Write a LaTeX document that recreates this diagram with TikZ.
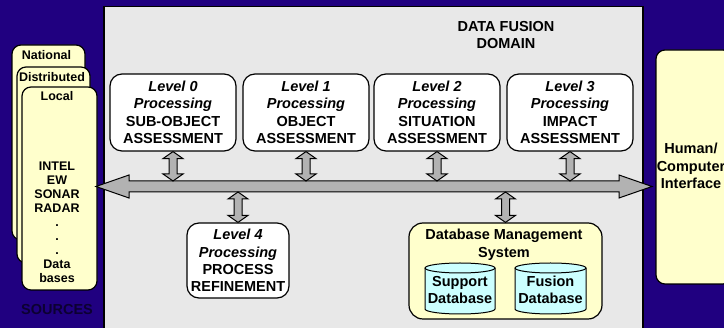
\documentclass[tikz,border=0pt]{standalone}
\usepackage{fontspec}
\setmainfont{Liberation Sans}
\usetikzlibrary{calc}
\definecolor{bgblue}{RGB}{32,0,128}
\definecolor{panelgray}{RGB}{232,232,232}
\definecolor{cream}{RGB}{255,255,204}
\definecolor{cylcyan}{RGB}{204,255,255}
\definecolor{arrowgray}{RGB}{178,178,178}
\definecolor{srctext}{RGB}{12,0,50}
\tikzset{
  bigfont/.style={font=\fontsize{14.5}{17.5}\selectfont\bfseries},
  smallfont/.style={font=\fontsize{12.5}{14}\selectfont\bfseries},
  lvl/.style={bigfont, draw=black, line width=1.2pt, fill=white, rounded corners=12pt,
    minimum width=126pt, minimum height=77pt, align=center, inner sep=1pt},
  srcbox/.style={draw=black, line width=1.2pt, fill=cream, rounded corners=9pt, inner sep=0pt},
  fatarrow/.style={draw=black, line width=1pt, fill=arrowgray, line join=miter},
  cylst/.style={draw=black, line width=1pt, fill=cylcyan},
  txt/.style={align=center, inner sep=0pt},
}
\newcommand\vdbl[2]{\draw[fatarrow] let \p1=(#1), \p2=(#2) in
  (\x1,\y1) -- (\x1+10pt,\y1-7pt) -- (\x1+4pt,\y1-7pt) -- (\x1+4pt,\y2+7pt) --
  (\x1+10pt,\y2+7pt) -- (\x1,\y2) -- (\x1-10pt,\y2+7pt) -- (\x1-4pt,\y2+7pt) --
  (\x1-4pt,\y1-7pt) -- (\x1-10pt,\y1-7pt) -- cycle;}
\begin{document}
\begin{tikzpicture}[x=1pt,y=-1pt]
\useasboundingbox (0,0) rectangle (724,328);
\fill[bgblue] (0,0) rectangle (724,328);
% main panel
\draw[fill=panelgray, draw=black, line width=1.5pt] (104,6.5) rectangle (643,340);
\node[txt, bigfont] (title) at (506,35) {DATA FUSION\\DOMAIN};
% sources
\node[srcbox, minimum width=73pt, minimum height=195pt] (nat) at (48.5,142.5) {};
\node[txt, smallfont, anchor=north] (natl) at ($(nat.north)+(-2pt,-6pt)$) {National};
\node[srcbox, minimum width=73pt, minimum height=196pt] (dist) at (53.5,165) {};
\node[txt, smallfont, anchor=north] (distl) at ($(dist.north)+(-1.5pt,-6pt)$) {Distributed};
\node[srcbox, minimum width=75pt, minimum height=203pt] (loc) at (59.5,188.5) {};
\node[txt, smallfont, anchor=north] (locl) at ($(loc.north)+(-2.5pt,-5pt)$) {Local};
\node[txt, smallfont] (loclist) at (57,222) {INTEL\\EW\\SONAR\\RADAR\\.\\.\\.\\Data\\bases};
\node[txt, bigfont, text=srctext] (sources) at (57,310) {SOURCES};
% human computer interface
\node[srcbox, minimum width=76pt, minimum height=234pt] (hci) at (694,167) {};
\node[txt, bigfont] (hcil) at (691,166) {Human/\\Computer\\Interface};
% levels
\node[lvl] (l0) at (173,112.5) {\textit{Level 0}\\\textit{Processing}\\SUB-OBJECT\\ASSESSMENT};
\node[lvl] (l1) at (306,112.5) {\textit{Level 1}\\\textit{Processing}\\OBJECT\\ASSESSMENT};
\node[lvl] (l2) at (437,112.5) {\textit{Level 2}\\\textit{Processing}\\SITUATION\\ASSESSMENT};
\node[lvl] (l3) at (570,112.5) {\textit{Level 3}\\\textit{Processing}\\IMPACT\\ASSESSMENT};
\node[lvl, minimum width=102pt, minimum height=75pt] (l4) at (238,260.5) {\textit{Level 4}\\\textit{Processing}\\PROCESS\\REFINEMENT};
% database management system
\node[srcbox, rounded corners=14pt, minimum width=193pt, minimum height=96pt] (db) at (505.5,271) {};
\node[txt, bigfont] (dbl) at (504,245) {Database Management\\System};
\draw[cylst] (425,268) -- (425,309) arc[start angle=180,end angle=360,x radius=35pt,y radius=5pt]
  -- (495,268) arc[start angle=0,end angle=180,x radius=35pt,y radius=5pt] -- cycle;
\draw[line width=1pt] (425,268) arc[start angle=180,end angle=360,x radius=35pt,y radius=5pt];
\node[txt, bigfont] (sup) at (460,290) {Support\\Database};
\draw[cylst] (515,268) -- (515,309) arc[start angle=180,end angle=360,x radius=35.5pt,y radius=5pt]
  -- (586,268) arc[start angle=0,end angle=180,x radius=35.5pt,y radius=5pt] -- cycle;
\draw[line width=1pt] (515,268) arc[start angle=180,end angle=360,x radius=35.5pt,y radius=5pt];
\node[txt, bigfont] (fus) at (550.5,290) {Fusion\\Database};
% bus
\coordinate (busL) at (96,186.5);
\coordinate (busR) at (652,186.5);
\coordinate (busTop) at (0,181);
\coordinate (busBot) at (0,192);
\draw[fatarrow] let \p1=(busL), \p2=(busR) in
  (\x1,\y1) -- (\x1+33pt,\y1+11.5pt) -- (\x1+33pt,\y1+5.5pt) -- (\x2-33pt,\y1+5.5pt) --
  (\x2-33pt,\y1+11.5pt) -- (\x2,\y1) -- (\x2-33pt,\y1-11.5pt) -- (\x2-33pt,\y1-5.5pt) --
  (\x1+33pt,\y1-5.5pt) -- (\x1+33pt,\y1-11.5pt) -- cycle;
% vertical arrows
\vdbl{l0.south}{l0.south |- busTop}
\vdbl{l1.south}{l1.south |- busTop}
\vdbl{l2.south}{l2.south |- busTop}
\vdbl{l3.south}{l3.south |- busTop}
\vdbl{l4.north |- busBot}{l4.north}
\vdbl{db.north |- busBot}{db.north}
\end{tikzpicture}
\end{document}
